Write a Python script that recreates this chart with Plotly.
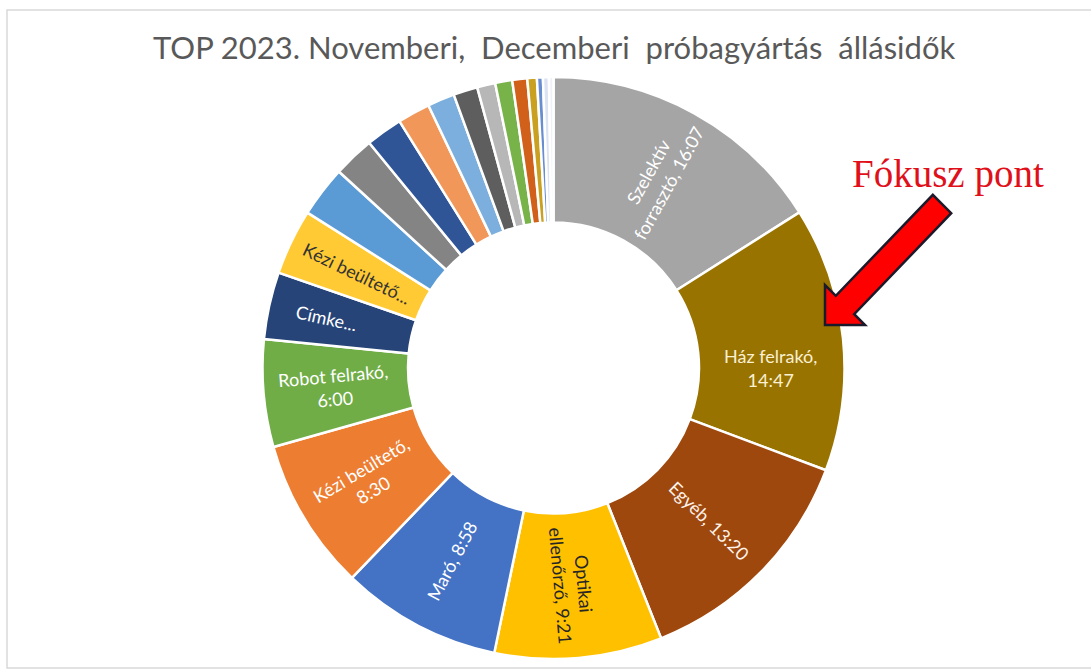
import plotly.graph_objects as go

W, H = 1091, 671

# Downtime per station, in minutes (sorted descending as in the report)
stations = [
    "Szelektív forrasztó", "Ház felrakó", "Egyéb", "Optikai ellenőrző", "Maró",
    "Kézi beültető", "Robot felrakó", "Címke nyomtató", "Kézi beültető 2",
    "Tétel 10", "Tétel 11", "Tétel 12", "Tétel 13", "Tétel 14", "Tétel 15",
    "Tétel 16", "Tétel 17", "Tétel 18", "Tétel 19", "Tétel 20", "Tétel 21", "Tétel 22",
]
downtime_min = [967, 887, 800, 561, 538, 510, 360, 225, 220, 171, 138, 123,
                109, 91, 81, 61, 57, 50, 32, 20, 20, 15]

# Label layout per slice; {t} is replaced by the h:mm downtime
label_formats = [
    "Szelektív<br>forrasztó, {t}", "Ház felrakó,<br>{t}", "Egyéb, {t}",
    "Optikai<br>ellenőrző, {t}", "Maró, {t}", "Kézi beültető,<br>{t}",
    "Robot felrakó,<br>{t}", "Címke...", "Kézi beültető...",
] + [""] * 13

slice_colors = [
    "#A5A5A5", "#997300", "#9E480E", "#FFC000", "#4472C4", "#ED7D31", "#70AD47",
    "#264478", "#FFCA33", "#5B9BD5", "#848484", "#2F5597", "#F1975A", "#7CAFDD",
    "#5E5E5E", "#B7B7B7", "#78B34A", "#D0601A", "#C9A020", "#698ED0", "#DCE3F2",
    "#EEF1F7",
]
label_colors = ["#FFFFFF", "#FAF0D2", "#FFF3EA", "#262626"] + ["#FFFFFF"] * 4 + ["#333333"] + ["#FFFFFF"] * 13


def hmm(m):
    return f"{m // 60}:{m % 60:02d}"


texts = [f.format(t=hmm(v)) for f, v in zip(label_formats, downtime_min)]

# Ring geometry in pixels
cx, cy, r = 553.5, 368, 291


def px(x, y):
    return x / W, 1 - y / H


fig = go.Figure(go.Pie(
    labels=stations,
    values=downtime_min,
    text=texts,
    textinfo="text",
    textposition="inside",
    insidetextorientation="radial",
    insidetextfont=dict(family="Lato, Open Sans, sans-serif", size=18, color=label_colors),
    hole=0.5,
    sort=False,
    direction="clockwise",
    rotation=0,
    marker=dict(colors=slice_colors, line=dict(color="white", width=2.5)),
    domain=dict(x=[(cx - r) / W, (cx + r) / W], y=[1 - (cy + r) / H, 1 - (cy - r) / H]),
    hoverinfo="label+value",
))

# Block arrow pointing at the highlighted slice
arrow_pts = [(825, 325), (825, 285), (835.8, 295.8), (932.8, 194.8),
             (951.2, 213.2), (854.2, 314.2), (865, 325)]
path = "M " + " L ".join(f"{px(x, y)[0]:.5f},{px(x, y)[1]:.5f}" for x, y in arrow_pts) + " Z"

fig.update_layout(
    width=W, height=H,
    margin=dict(l=0, r=0, t=0, b=0),
    paper_bgcolor="white",
    plot_bgcolor="white",
    showlegend=False,
    shapes=[
        dict(type="rect", xref="paper", yref="paper",
             x0=7 / W, x1=1.02, y0=1 - 668 / H, y1=1 - 10 / H,
             line=dict(color="#D9D9D9", width=1.5), fillcolor="rgba(0,0,0,0)", layer="below"),
        dict(type="path", xref="paper", yref="paper", path=path,
             fillcolor="#FF0000", line=dict(color="#1A1A2A", width=2.5)),
    ],
    annotations=[
        dict(text="TOP 2023. Novemberi,  Decemberi  próbagyártás  állásidők",
             xref="paper", yref="paper", x=554 / W, y=1 - 47 / H,
             xanchor="center", yanchor="middle", showarrow=False,
             font=dict(family="Lato, Open Sans, sans-serif", size=31, color="#595959")),
        dict(text="Fókusz pont",
             xref="paper", yref="paper", x=948 / W, y=1 - 174 / H,
             xanchor="center", yanchor="middle", showarrow=False,
             font=dict(family="Liberation Serif, Times New Roman, serif", size=39, color="#E0101A")),
    ],
)

fig.write_html("out.html")
